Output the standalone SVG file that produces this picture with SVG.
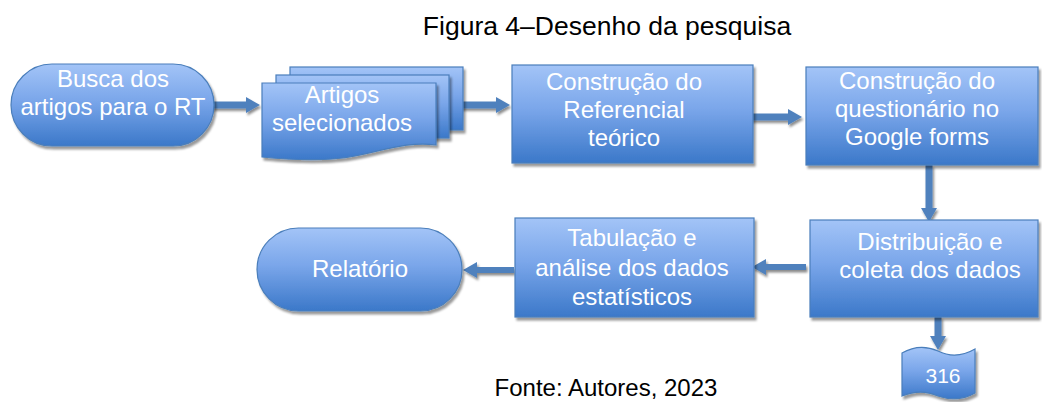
<svg xmlns="http://www.w3.org/2000/svg" width="1042" height="402" viewBox="0 0 1042 402">
<style>
.lbl{font-family:"Liberation Sans",Arial,sans-serif;font-size:24px;fill:#ffffff;text-anchor:middle}
.cap{font-family:"Liberation Sans",Arial,sans-serif;fill:#000000;text-anchor:middle}
.shape{fill:url(#g);stroke:#4a7ebb;stroke-width:1.2;filter:url(#sh)}
.arr{fill:#4f81bd;filter:url(#sha)}
</style>
<defs>
<linearGradient id="g" x1="0" y1="0" x2="0" y2="1">
<stop offset="0" stop-color="#a3c4f7"/>
<stop offset="0.45" stop-color="#7aa6ea"/>
<stop offset="1" stop-color="#3b78c9"/>
</linearGradient>
<filter id="sh" x="-10%" y="-10%" width="130%" height="140%">
<feDropShadow dx="2" dy="3" stdDeviation="1" flood-color="#000" flood-opacity="0.4"/>
</filter>
<filter id="sha" x="-20%" y="-50%" width="140%" height="200%">
<feDropShadow dx="1.5" dy="2.5" stdDeviation="0.8" flood-color="#000" flood-opacity="0.45"/>
</filter>
</defs>
<rect width="1042" height="402" fill="#ffffff"/>
<text class="cap" x="607" y="35" font-size="26.5">Figura 4–Desenho da pesquisa</text>
<text class="cap" x="606" y="396" font-size="24">Fonte: Autores, 2023</text>

<g id="connectors">
<polygon class="arr" points="207,101.5 246,101.5 246,97 260,105 246,113 246,108.5 207,108.5"/>
<polygon class="arr" points="458,101.5 496,101.5 496,97 510,105 496,113 496,108.5 458,108.5"/>
<polygon class="arr" points="750,113.5 788,113.5 788,109 802,117 788,125 788,120.5 750,120.5"/>
<polygon class="arr" points="925.5,165 932.5,165 932.5,208 937,208 929,222 921,208 925.5,208"/>
<polygon class="arr" points="806,264 766,264 766,259 752,267 766,275 766,270 806,270"/>
<polygon class="arr" points="514,267 477,267 477,262 463,270 477,278 477,273 514,273"/>
<polygon class="arr" points="934.5,317 941.5,317 941.5,336 946,336 938,350 930,336 934.5,336"/>
</g>

<g id="n1">
<rect class="shape" x="11" y="64" width="203" height="82" rx="41" ry="41"/>
<text class="lbl" x="113" y="87">Busca dos</text>
<text class="lbl" x="113" y="115">artigos para o RT</text>
</g>

<g id="n2">
<rect class="shape" x="290" y="67" width="173" height="63"/>
<rect class="shape" x="276" y="75" width="173" height="63"/>
<path class="shape" d="M262,83 H436 V145 C410,141 385,150 355,156 C325,162 292,160 262,157 Z"/>
<text class="lbl" x="342" y="103">Artigos</text>
<text class="lbl" x="342" y="131">selecionados</text>
</g>

<g id="n3">
<rect class="shape" x="512" y="65" width="241" height="98"/>
<text class="lbl" x="624" y="90">Construção do</text>
<text class="lbl" x="624" y="118">Referencial</text>
<text class="lbl" x="624" y="146">teórico</text>
</g>

<g id="n4">
<rect class="shape" x="806" y="67" width="232" height="98"/>
<text class="lbl" x="917" y="89">Construção do</text>
<text class="lbl" x="917" y="117">questionário no</text>
<text class="lbl" x="917" y="145">Google forms</text>
</g>

<g id="n5">
<rect class="shape" x="810" y="220" width="228" height="97"/>
<text class="lbl" x="930" y="250">Distribuição e</text>
<text class="lbl" x="930" y="278">coleta dos dados</text>
</g>

<g id="n6">
<rect class="shape" x="515" y="218" width="239" height="99"/>
<text class="lbl" x="632" y="246">Tabulação e</text>
<text class="lbl" x="632" y="276">análise dos dados</text>
<text class="lbl" x="632" y="305">estatísticos</text>
</g>

<g id="n7">
<rect class="shape" x="257" y="228" width="205" height="83" rx="41.5" ry="41.5"/>
<text class="lbl" x="360" y="277">Relatório</text>
</g>

<g id="n8">
<path class="shape" d="M902,353 C914,346 927,346 938,351 C950,357 963,356 975,349 V393 C963,400 950,400 938,396 C927,391 914,391 902,396 Z"/>
<text class="lbl" x="943" y="383" style="font-size:21px">316</text>
</g>
</svg>
